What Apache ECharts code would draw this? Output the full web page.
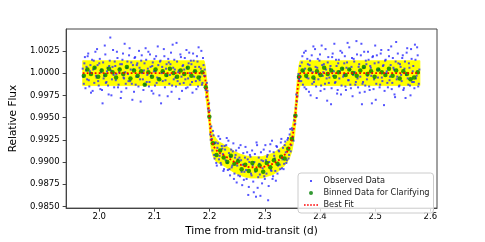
<!DOCTYPE html>
<html><head><meta charset="utf-8">
<script src="https://cdn.jsdelivr.net/npm/echarts@6/dist/echarts.min.js"></script>
<style>html,body{margin:0;padding:0;background:#fff}#c{width:485px;height:242px}</style>
</head><body><div id="c"></div>
<script>
// ---- data ----
const xTicks = [2.0, 2.1, 2.2, 2.3, 2.4, 2.5, 2.6];
const yTicks = [0.9850, 0.9875, 0.9900, 0.9925, 0.9950, 0.9975, 1.0000, 1.0025];

const fitTime = [1.970,2.190,2.192,2.194,2.196,2.198,2.200,2.202,2.204,2.207,2.211,2.216,2.225,2.235,2.245,2.255,2.265,2.275,2.285,2.295,2.305,2.315,2.325,2.333,2.340,2.345,2.349,2.352,2.354,2.356,2.358,2.360,2.362,2.364,2.581];
const fitFlux = [1.0000,1.0000,0.9994,0.9983,0.9972,0.9962,0.9946,0.9932,0.9924,0.9918,0.9914,0.9911,0.9908,0.9904,0.9900,0.9897,0.9895,0.9894,0.9894,0.9894,0.9896,0.9898,0.9902,0.9906,0.9911,0.9917,0.9925,0.9935,0.9944,0.9958,0.9973,0.9986,0.9995,1.0000,1.0000];
const bandUpper = [1.0014,1.0014,1.0008,0.9997,0.9985,0.9975,0.9959,0.9945,0.9937,0.9931,0.9927,0.9923,0.9920,0.9916,0.9912,0.9909,0.9907,0.9906,0.9906,0.9906,0.9908,0.9910,0.9914,0.9918,0.9923,0.9929,0.9938,0.9948,0.9958,0.9972,0.9987,1.0000,1.0009,1.0014,1.0014];
const bandLower = [0.9986,0.9986,0.9980,0.9969,0.9959,0.9949,0.9933,0.9919,0.9911,0.9905,0.9901,0.9899,0.9896,0.9892,0.9888,0.9885,0.9883,0.9882,0.9882,0.9882,0.9884,0.9886,0.9890,0.9894,0.9899,0.9905,0.9912,0.9922,0.9930,0.9944,0.9959,0.9972,0.9981,0.9986,0.9986];

const observedA = [
[1.970,1.0005],[1.972,0.9988],[1.974,1.0018],[1.976,1.0003],[1.978,0.9993],[1.980,1.0022],[1.982,0.9985],[1.984,1.0009],[1.986,1.0000],[1.988,0.9980],
[1.990,1.0014],[1.992,1.0006],[1.994,0.9997],[1.996,1.0027],[1.998,0.9991],[2.000,1.0011],[2.002,0.9982],[2.004,1.0004],[2.006,0.9966],[2.008,0.9994],
[2.010,1.0031],[2.012,0.9989],[2.014,1.0002],[2.016,0.9986],[2.018,1.0008],[2.020,1.0040],[2.022,0.9975],[2.024,1.0007],[2.026,0.9998],[2.028,1.0013],
[2.030,0.9992],[2.032,1.0024],[2.034,0.9984],[2.036,1.0001],[2.038,1.0010],[2.040,0.9979],[2.042,1.0015],[2.044,0.9995],[2.046,1.0033],[2.048,0.9988],
[2.050,1.0006],[2.052,0.9999],[2.054,1.0020],[2.056,0.9991],[2.058,1.0012],[2.060,0.9970],[2.062,1.0004],[2.064,1.0017],[2.066,0.9987],[2.068,1.0009],
[2.070,0.9996],[2.072,1.0025],[2.074,0.9993],[2.076,1.0014],[2.078,1.0000],[2.080,0.9981],[2.082,1.0011],[2.084,1.0028],[2.086,0.9990],[2.088,1.0005],
[2.090,0.9985],[2.092,1.0021],[2.094,0.9997],[2.096,1.0008],[2.098,0.9977],[2.100,1.0016],[2.102,1.0002],[2.104,0.9989],[2.106,1.0030],[2.108,0.9994],
[2.110,1.0013],[2.112,0.9966],[2.114,1.0007],[2.116,1.0001],[2.118,1.0019],[2.120,0.9992],[2.122,1.0010],[2.124,0.9974],[2.126,1.0012],[2.128,0.9998],
[2.130,1.0023],[2.132,0.9986],[2.134,1.0006],[2.136,1.0015],[2.138,0.9995],[2.140,1.0034],[2.142,0.9991],[2.144,1.0003],[2.146,0.9988],[2.148,1.0018],
[2.150,0.9980],[2.152,1.0009],[2.154,1.0004],[2.156,0.9993],[2.158,1.0026],[2.160,0.9984],[2.162,1.0011],[2.164,1.0000],[2.166,1.0014],[2.168,0.9990],
[2.170,1.0022],[2.172,0.9996],[2.174,1.0007],[2.176,0.9982],[2.178,1.0013],[2.180,1.0029],[2.182,0.9992],[2.184,1.0005],[2.186,0.9987],[2.188,1.0017],
[2.190,0.9997],
[2.192,0.9997],[2.194,0.9973],[2.196,0.9980],[2.198,0.9957],[2.200,0.9958],[2.202,0.9925],[2.204,0.9926],[2.206,0.9935],[2.208,0.9908],[2.210,0.9921],
[2.212,0.9899],[2.214,0.9916],[2.216,0.9929],[2.218,0.9907],[2.220,0.9899],[2.222,0.9918],[2.224,0.9909],[2.226,0.9892],[2.228,0.9914],[2.230,0.9919],
[2.232,0.9899],[2.234,0.9924],[2.236,0.9892],[2.238,0.9906],[2.240,0.9894],[2.242,0.9912],[2.244,0.9881],[2.246,0.9905],[2.248,0.9913],[2.250,0.9896],
[2.252,0.9885],[2.254,0.9905],[2.256,0.9919],[2.258,0.9889],[2.260,0.9897],[2.262,0.9880],[2.264,0.9905],[2.266,0.9891],[2.268,0.9911],[2.270,0.9863],
[2.272,0.9900],[2.274,0.9906],[2.276,0.9885],[2.278,0.9896],[2.280,0.9866],[2.282,0.9909],[2.284,0.9861],[2.286,0.9919],[2.288,0.9883],[2.290,0.9898],
[2.292,0.9862],[2.294,0.9902],[2.296,0.9893],[2.298,0.9914],[2.300,0.9881],[2.302,0.9902],[2.304,0.9906],[2.306,0.9857],[2.308,0.9900],[2.310,0.9920],
[2.312,0.9890],[2.314,0.9881],[2.316,0.9911],[2.318,0.9904],[2.320,0.9879],[2.322,0.9917],[2.324,0.9896],[2.326,0.9912],[2.328,0.9892],[2.330,0.9926],
[2.332,0.9903],[2.334,0.9892],[2.336,0.9919],[2.338,0.9911],[2.340,0.9902],[2.342,0.9927],[2.344,0.9908],[2.346,0.9937],[2.348,0.9919],[2.350,0.9936],
[2.352,0.9924],[2.354,0.9952],[2.356,0.9961],[2.358,0.9968],[2.360,0.9995],[2.362,0.9993],
[2.364,1.0008],[2.366,0.9991],[2.368,1.0019],[2.370,1.0002],[2.372,0.9984],[2.374,1.0025],[2.376,0.9995],[2.378,1.0010],[2.380,0.9979],[2.382,1.0014],
[2.384,1.0003],[2.386,0.9988],[2.388,1.0030],[2.390,0.9993],[2.392,1.0007],[2.394,0.9972],[2.396,1.0016],[2.398,0.9999],[2.400,1.0021],[2.402,0.9986],
[2.404,1.0009],[2.406,1.0001],[2.408,0.9982],[2.410,1.0027],[2.412,0.9994],[2.414,1.0012],[2.416,0.9989],[2.418,1.0005],[2.420,0.9965],[2.422,1.0018],
[2.424,0.9997],[2.426,1.0033],[2.428,0.9990],[2.430,1.0008],[2.432,0.9981],[2.434,1.0015],[2.436,1.0002],[2.438,0.9976],[2.440,1.0023],[2.442,0.9996],
[2.444,1.0011],[2.446,0.9985],[2.448,1.0006],[2.450,1.0034],[2.452,0.9992],[2.454,1.0004],[2.456,0.9983],[2.458,1.0017],[2.460,0.9998],[2.462,1.0013],
[2.464,0.9987],[2.466,1.0036],[2.468,0.9994],[2.470,1.0007],[2.472,0.9978],[2.474,1.0020],[2.476,0.9965],[2.478,0.9990],[2.480,1.0024],[2.482,0.9986],
[2.484,1.0010],[2.486,0.9997],[2.488,1.0015],[2.490,0.9981],[2.492,1.0006],[2.494,0.9966],[2.496,1.0019],[2.498,0.9993],[2.500,1.0031],[2.502,0.9988],
[2.504,1.0003],[2.506,1.0012],[2.508,0.9984],[2.510,1.0022],[2.512,0.9995],[2.514,1.0008],[2.516,0.9964],[2.518,1.0014],[2.520,1.0000],[2.522,0.9989],
[2.524,1.0026],[2.526,0.9992],[2.528,1.0009],[2.530,0.9982],[2.532,1.0017],[2.534,1.0004],[2.536,0.9973],[2.538,1.0035],[2.540,0.9996],[2.542,1.0011],
[2.544,0.9986],[2.546,1.0007],[2.548,0.9991],[2.550,1.0020],[2.552,0.9983],[2.554,1.0013],[2.556,0.9998],[2.558,1.0028],[2.560,0.9987],[2.562,1.0006],
[2.564,0.9975],[2.566,1.0016],[2.568,1.0002],[2.570,0.9990],[2.572,1.0032],[2.574,0.9994],[2.576,1.0029],[2.578,0.9985],[2.580,1.0004]
];

const observedB = [
[1.971,0.9996],[1.973,1.0011],[1.975,0.9983],[1.977,1.0007],[1.979,1.0019],[1.981,0.9992],[1.983,1.0002],[1.985,0.9978],[1.987,1.0015],[1.989,1.0004],
[1.991,0.9989],[1.993,1.0024],[1.995,0.9995],[1.997,1.0009],[1.999,0.9986],[2.001,1.0016],[2.003,1.0001],[2.005,0.9981],[2.007,1.0012],[2.009,0.9997],
[2.011,1.0021],[2.013,0.9990],[2.015,1.0006],[2.017,0.9976],[2.019,1.0014],[2.021,1.0003],[2.023,0.9993],[2.025,1.0026],[2.027,0.9984],[2.029,1.0008],
[2.031,0.9999],[2.033,1.0017],[2.035,0.9987],[2.037,1.0005],[2.039,0.9972],[2.041,1.0010],[2.043,1.0022],[2.045,0.9994],[2.047,1.0001],[2.049,0.9983],
[2.051,1.0013],[2.053,0.9991],[2.055,1.0028],[2.057,1.0004],[2.059,0.9988],[2.061,1.0009],[2.063,0.9979],[2.065,1.0018],[2.067,0.9996],[2.069,1.0011],
[2.071,0.9985],[2.073,1.0006],[2.075,0.9968],[2.077,1.0020],[2.079,0.9993],[2.081,1.0003],[2.083,0.9987],[2.085,1.0015],[2.087,0.9998],[2.089,1.0024],
[2.091,0.9990],[2.093,1.0007],[2.095,0.9980],[2.097,1.0012],[2.099,1.0002],[2.101,0.9986],[2.103,1.0019],[2.105,0.9995],[2.107,1.0009],[2.109,0.9975],
[2.111,1.0014],[2.113,1.0000],[2.115,0.9991],[2.117,1.0027],[2.119,0.9984],[2.121,1.0005],[2.123,0.9997],[2.125,1.0016],[2.127,0.9988],[2.129,1.0010],
[2.131,0.9979],[2.133,1.0032],[2.135,0.9993],[2.137,1.0004],[2.139,0.9985],[2.141,1.0013],[2.143,1.0001],[2.145,0.9971],[2.147,1.0021],[2.149,0.9996],
[2.151,1.0008],[2.153,0.9989],[2.155,1.0017],[2.157,0.9983],[2.159,1.0006],[2.161,0.9994],[2.163,1.0023],[2.165,0.9987],[2.167,1.0010],[2.169,0.9978],
[2.171,1.0014],[2.173,1.0002],[2.175,0.9991],[2.177,1.0019],[2.179,0.9985],[2.181,1.0007],[2.183,0.9996],[2.185,1.0025],[2.187,0.9989],[2.189,1.0009],
[2.191,1.0004],[2.193,0.9981],[2.195,0.9989],[2.197,0.9960],[2.199,0.9966],[2.201,0.9931],[2.203,0.9940],[2.205,0.9913],[2.207,0.9930],[2.209,0.9904],
[2.211,0.9922],[2.213,0.9896],[2.215,0.9921],[2.217,0.9903],[2.219,0.9926],[2.221,0.9897],[2.223,0.9915],[2.225,0.9890],[2.227,0.9918],[2.229,0.9902],
[2.231,0.9927],[2.233,0.9891],[2.235,0.9910],[2.237,0.9885],[2.239,0.9914],[2.241,0.9896],[2.243,0.9921],[2.245,0.9887],[2.247,0.9908],[2.249,0.9877],
[2.251,0.9903],[2.253,0.9916],[2.255,0.9884],[2.257,0.9902],[2.259,0.9874],[2.261,0.9910],[2.263,0.9889],[2.265,0.9917],[2.267,0.9881],[2.269,0.9903],
[2.271,0.9872],[2.273,0.9908],[2.275,0.9887],[2.277,0.9913],[2.279,0.9878],[2.281,0.9900],[2.283,0.9889],[2.285,0.9922],[2.287,0.9871],[2.289,0.9905],
[2.291,0.9886],[2.293,0.9911],[2.295,0.9876],[2.297,0.9901],[2.299,0.9884],[2.301,0.9919],[2.303,0.9887],[2.305,0.9908],[2.307,0.9873],[2.309,0.9912],
[2.311,0.9891],[2.313,0.9924],[2.315,0.9884],[2.317,0.9907],[2.319,0.9890],[2.321,0.9918],[2.323,0.9887],[2.325,0.9913],[2.327,0.9897],[2.329,0.9922],
[2.331,0.9893],[2.333,0.9916],[2.335,0.9898],[2.337,0.9923],[2.339,0.9899],[2.341,0.9925],[2.343,0.9904],[2.345,0.9931],[2.347,0.9912],[2.349,0.9938],
[2.351,0.9928],[2.353,0.9947],[2.355,0.9943],[2.357,0.9976],[2.359,0.9974],[2.361,0.9999],[2.363,0.9991],
[2.365,0.9996],[2.367,1.0012],[2.369,0.9987],[2.371,1.0023],[2.373,1.0005],[2.375,0.9982],[2.377,1.0016],[2.379,0.9994],[2.381,1.0009],[2.383,0.9975],
[2.385,1.0020],[2.387,1.0001],[2.389,0.9990],[2.391,1.0027],[2.393,0.9985],[2.395,1.0006],[2.397,0.9993],[2.399,1.0014],[2.401,0.9980],[2.403,1.0031],
[2.405,0.9997],[2.407,1.0010],[2.409,0.9988],[2.411,1.0004],[2.413,0.9969],[2.415,1.0018],[2.417,0.9995],[2.419,1.0008],[2.421,0.9983],[2.423,1.0022],
[2.425,1.0002],[2.427,0.9989],[2.429,1.0015],[2.431,0.9977],[2.433,1.0011],[2.435,0.9994],[2.437,1.0025],[2.439,0.9986],[2.441,1.0005],[2.443,0.9998],
[2.445,1.0019],[2.447,0.9981],[2.449,1.0012],[2.451,0.9992],[2.453,1.0029],[2.455,0.9987],[2.457,1.0007],[2.459,0.9974],[2.461,1.0016],[2.463,1.0001],
[2.465,0.9990],[2.467,1.0021],[2.469,0.9984],[2.471,1.0010],[2.473,0.9996],[2.475,1.0033],[2.477,0.9988],[2.479,1.0006],[2.481,0.9979],[2.483,1.0014],
[2.485,0.9993],[2.487,1.0024],[2.489,0.9985],[2.491,1.0008],[2.493,0.9997],[2.495,1.0018],[2.497,0.9982],[2.499,1.0011],[2.501,0.9970],[2.503,1.0020],
[2.505,0.9995],[2.507,1.0004],[2.509,0.9987],[2.511,1.0026],[2.513,0.9991],[2.515,1.0009],[2.517,0.9980],[2.519,1.0015],[2.521,1.0002],[2.523,0.9984],
[2.525,1.0019],[2.527,0.9996],[2.529,1.0030],[2.531,0.9989],[2.533,1.0006],[2.535,0.9976],[2.537,1.0013],[2.539,0.9993],[2.541,1.0022],[2.543,0.9985],
[2.545,1.0010],[2.547,0.9998],[2.549,1.0017],[2.551,0.9981],[2.553,1.0005],[2.555,0.9972],[2.557,1.0023],[2.559,0.9994],[2.561,1.0011],[2.563,0.9986],
[2.565,1.0027],[2.567,0.9990],[2.569,1.0008],[2.571,0.9983],[2.573,1.0015],[2.575,0.9997],[2.577,1.0020],[2.579,0.9988]
];

const binned = [
[1.9720,0.9997],[1.9785,1.0004],[1.9850,0.9999],[1.9915,1.0006],[1.9980,0.9996],[2.0045,1.0003],[2.0110,0.9998],[2.0175,1.0005],[2.0240,1.0001],[2.0305,0.9995],
[2.0370,1.0004],[2.0435,0.9999],[2.0500,1.0007],[2.0565,0.9994],[2.0630,1.0003],[2.0695,0.9997],[2.0760,1.0002],[2.0825,0.9987],[2.0890,1.0001],[2.0955,0.9996],
[2.1020,1.0004],[2.1085,0.9993],[2.1150,1.0002],[2.1215,0.9998],[2.1280,1.0005],[2.1345,1.0000],[2.1410,0.9996],[2.1475,1.0003],[2.1540,0.9999],[2.1605,1.0006],
[2.1670,0.9997],[2.1735,1.0002],[2.1800,0.9995],[2.1865,1.0001],[2.1930,0.9984],[2.1995,0.9951],[2.2060,0.9921],[2.2125,0.9908],[2.2190,0.9913],[2.2255,0.9905],
[2.2320,0.9900],[2.2385,0.9907],[2.2450,0.9898],[2.2515,0.9901],[2.2580,0.9892],[2.2645,0.9897],[2.2710,0.9890],[2.2775,0.9899],[2.2840,0.9891],[2.2905,0.9896],
[2.2970,0.9889],[2.3035,0.9899],[2.3100,0.9894],[2.3165,0.9902],[2.3230,0.9898],[2.3295,0.9906],[2.3360,0.9904],[2.3425,0.9915],[2.3490,0.9926],[2.3555,0.9952],
[2.3620,0.9996],[2.3685,1.0003],[2.3750,0.9997],[2.3815,1.0004],[2.3880,0.9995],[2.3945,1.0002],[2.4010,0.9998],[2.4075,1.0006],[2.4140,0.9999],[2.4205,1.0003],
[2.4270,0.9996],[2.4335,1.0001],[2.4400,1.0005],[2.4465,0.9998],[2.4530,1.0004],[2.4595,1.0000],[2.4665,0.9997],[2.4730,1.0003],[2.4795,1.0007],[2.4860,0.9999],
[2.4925,1.0002],[2.4990,0.9996],[2.5055,1.0004],[2.5120,1.0001],[2.5185,0.9998],[2.5250,1.0005],[2.5315,0.9997],[2.5380,1.0003],[2.5445,0.9994],[2.5510,1.0002],
[2.5575,0.9999],[2.5640,0.9993],[2.5705,0.9995],[2.5770,1.0001]
];

// ---- chart ----
const FONT = 'DejaVu Sans';
const chart = echarts.init(document.getElementById('c'), null, {renderer: 'canvas'});
const observed = observedA.concat(observedB);
const fitData = fitTime.map((t, i) => [t, fitFlux[i]]);

chart.setOption({
  animation: false,
  backgroundColor: '#ffffff',
  grid: {left: 60, right: 48, top: 29, bottom: 27, show: true, borderColor: '#444', borderWidth: 1, containLabel: false},
  xAxis: {
    type: 'value', min: 1.94, max: 2.612,
    name: 'Time from mid-transit (d)', nameLocation: 'middle', nameGap: 16,
    nameTextStyle: {fontFamily: FONT, fontSize: 10.5, color: '#000'},
    axisLine: {show: true, onZero: false, lineStyle: {color: '#444'}},
    axisTick: {show: true, length: 3.5, lineStyle: {color: '#444'}, customValues: xTicks},
    axisLabel: {fontFamily: FONT, fontSize: 8.5, color: '#000', margin: 4, customValues: xTicks, formatter: v => v.toFixed(1)},
    splitLine: {show: false}
  },
  yAxis: {
    type: 'value', min: 0.98482, max: 1.00496,
    name: 'Relative Flux', nameLocation: 'middle', nameGap: 42, nameRotate: 90,
    nameTextStyle: {fontFamily: FONT, fontSize: 10.5, color: '#000'},
    axisLine: {show: true, onZero: false, lineStyle: {color: '#444'}},
    axisTick: {show: true, length: 3.5, lineStyle: {color: '#444'}, customValues: yTicks},
    axisLabel: {fontFamily: FONT, fontSize: 8.5, color: '#000', margin: 6.5, customValues: yTicks, formatter: v => v.toFixed(4)},
    splitLine: {show: false}
  },
  legend: {
    orient: 'vertical', left: 298, top: 173, padding: [3, 4, 3, 6], itemGap: 2,
    itemWidth: 15, itemHeight: 10, borderColor: '#ccc', borderWidth: 1, borderRadius: 3,
    backgroundColor: 'rgba(255,255,255,0.8)',
    textStyle: {fontFamily: FONT, fontSize: 8.2, color: '#222'},
    data: [
      {name: 'Observed Data', icon: 'path://M0,0M10,10M4,4L6,4L6,6L4,6Z'},
      {name: 'Binned Data for Clarifying', icon: 'path://M0,0M10,10M3,5A2,2,0,1,0,7,5A2,2,0,1,0,3,5Z'},
      {name: 'Best Fit', icon: 'path://M0,0M14,10M0,4.2h1.6v1.6h-1.6zM3.1,4.2h1.6v1.6h-1.6zM6.2,4.2h1.6v1.6h-1.6zM9.3,4.2h1.6v1.6h-1.6zM12.4,4.2h1.6v1.6h-1.6z'}
    ]
  },
  series: [
    {type: 'custom', name: 'band', silent: true, z: 1, clip: true,
     data: [[fitTime[0], bandUpper[0]]],
     renderItem: (params, api) => {
       const pts = [];
       for (let i = 0; i < fitTime.length; i++) pts.push(api.coord([fitTime[i], bandUpper[i]]));
       for (let i = fitTime.length - 1; i >= 0; i--) pts.push(api.coord([fitTime[i], bandLower[i]]));
       return {type: 'polygon', shape: {points: pts}, style: {fill: '#ffff00', stroke: '#ffff00', lineWidth: 0.8}};
     }},
    {type: 'scatter', name: 'Observed Data', data: observed, symbol: 'rect', symbolSize: 2,
     itemStyle: {color: '#2a2aff'}, z: 3},
    {type: 'scatter', name: 'Binned Data for Clarifying', data: binned, symbol: 'circle', symbolSize: 4.5,
     itemStyle: {color: '#008000'}, z: 4},
    {type: 'line', name: 'Best Fit', data: fitData, symbol: 'none', z: 5,
     itemStyle: {color: '#ff0000'},
     lineStyle: {color: '#ff0000', width: 1.8, type: [1.8, 2.2]}}
  ]
});
</script></body></html>
